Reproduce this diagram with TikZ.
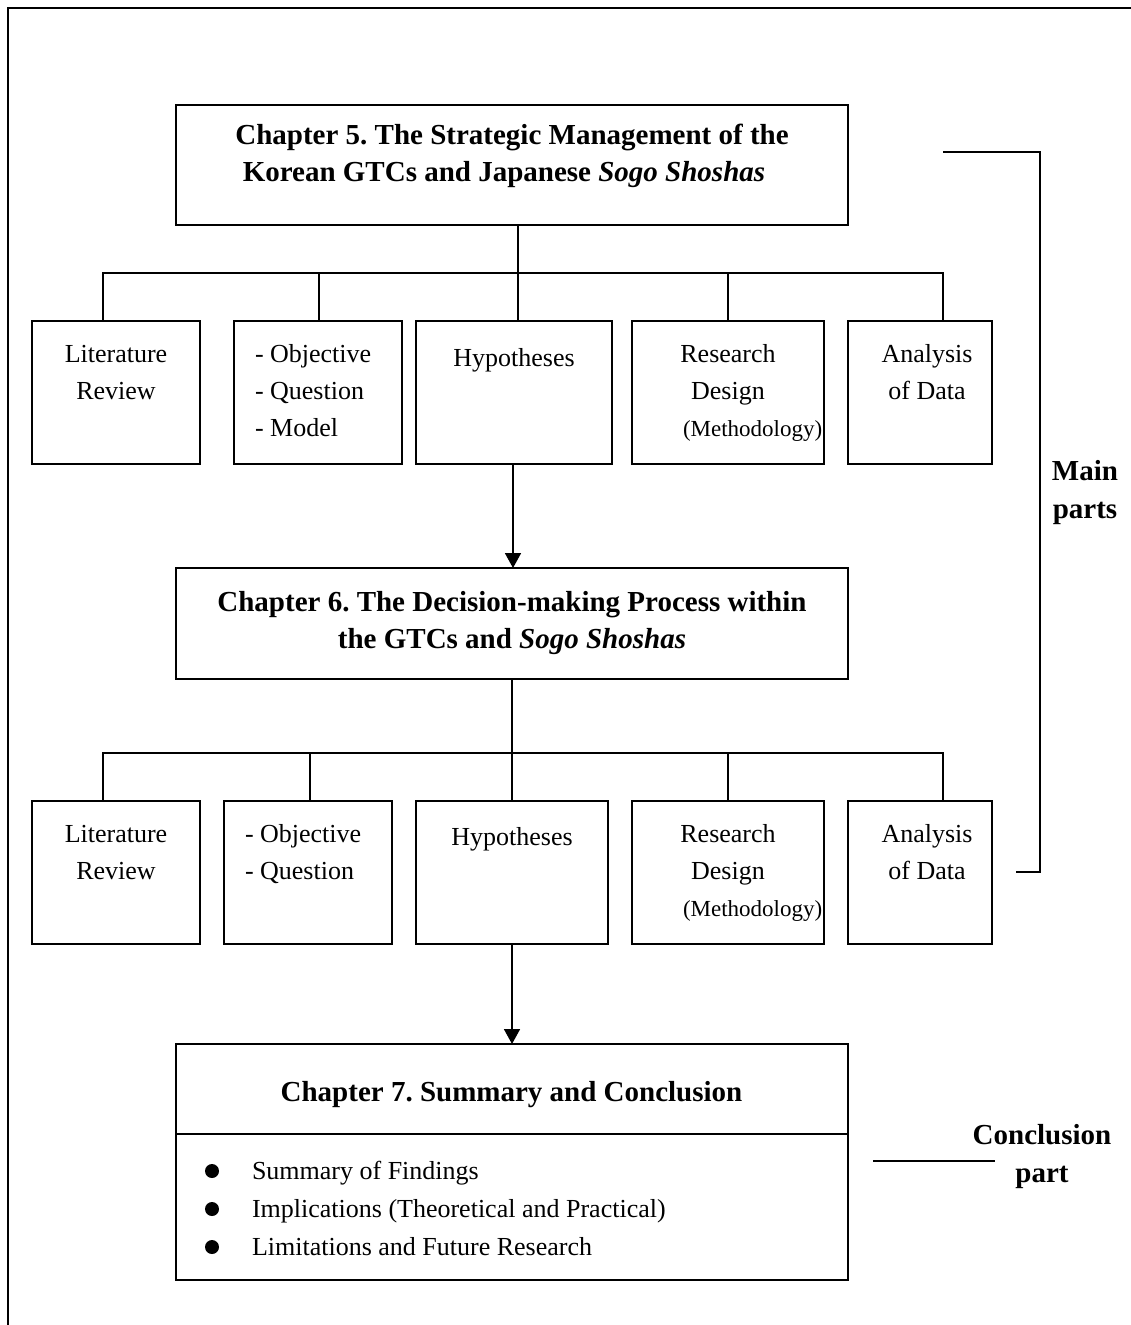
\documentclass[tikz,border=0pt]{standalone}
\usepackage{fontspec}
\setmainfont{Liberation Serif}
\frenchspacing
\usetikzlibrary{arrows.meta}
\begin{document}
\begin{tikzpicture}[x=1pt,y=-1pt,
  every node/.style={inner sep=0pt, outer sep=0pt},
  frame/.style={line width=2pt},
  box/.style 2 args={draw, line width=1.8pt, minimum width=#1, minimum height=#2},
  link/.style={line width=1.8pt},
  arrow/.style={line width=1.8pt, -{Triangle[width=16pt,length=15pt]}},
  body/.style={font=\fontsize{26}{37}\selectfont, align=center, anchor=base},
  listtxt/.style={font=\fontsize{26}{37}\selectfont, align=left, anchor=base west},
  small/.style={font=\fontsize{23}{37}\selectfont, anchor=base west},
  head/.style={font=\fontsize{29}{37}\selectfont\bfseries, anchor=base},
  side/.style={font=\fontsize{29}{38}\selectfont\bfseries, align=center, anchor=base}]
\useasboundingbox (0,0) rectangle (1131,1325);

% outer frame (top and left edges)
\draw[frame] (8,1325) -- (8,8) -- (1131,8);

% multi-line labels are placed by the baseline of their last line

% ---------- Chapter 5 ----------
\node[box={672pt}{120pt}] (c5) at (512,165) {};
\node[head] (c5a) at (512,144.5) {Chapter 5. The Strategic Management of the};
\node[head] (c5b) at (504,181.5) {Korean GTCs and Japanese \textit{Sogo Shoshas}};

\node[box={168pt}{143pt}] (a1) at (116,392.5) {};
\node[box={168pt}{143pt}] (a2) at (318,392.5) {};
\node[box={196pt}{143pt}] (a3) at (514,392.5) {};
\node[box={192pt}{143pt}] (a4) at (728,392.5) {};
\node[box={144pt}{143pt}] (a5) at (920,392.5) {};

\node[body] (a1t) at (116,399) {Literature\\Review};
\node[listtxt] (a2t) at (255,436) {- Objective\\- Question\\- Model};
\node[body] (a3t) at (514,366) {Hypotheses};
\node[body] (a4t) at (728,399) {Research\\Design};
\node[small] (a4m) at (683,436) {(Methodology)};
\node[body] (a5t) at (927,399) {Analysis\\of Data};

% tree links below Chapter 5
\coordinate (j5) at (518,273);
\coordinate (p1) at (103,273);
\coordinate (p2) at (319,273);
\coordinate (p4) at (728,273);
\coordinate (p5) at (943,273);
\draw[link] (c5.south -| j5) -- (j5);
\draw[link] (a1.north -| p1) -- (p1) -- (p5) -- (a5.north -| p5);
\draw[link] (p2) -- (a2.north -| p2);
\draw[link] (j5) -- (a3.north -| j5);
\draw[link] (p4) -- (a4.north -| p4);

% ---------- Chapter 6 ----------
\node[box={672pt}{111pt}] (c6) at (512,623.5) {};
\node[head] (c6a) at (512,611) {Chapter 6. The Decision-making Process within};
\node[head] (c6b) at (512,648) {the GTCs and \textit{Sogo Shoshas}};

\draw[arrow] (a3.south -| 513,0) -- (c6.north -| 513,0);

\node[box={168pt}{143pt}] (b1) at (116,872.5) {};
\node[box={168pt}{143pt}] (b2) at (308,872.5) {};
\node[box={192pt}{143pt}] (b3) at (512,872.5) {};
\node[box={192pt}{143pt}] (b4) at (728,872.5) {};
\node[box={144pt}{143pt}] (b5) at (920,872.5) {};

\node[body] (b1t) at (116,879) {Literature\\Review};
\node[listtxt] (b2t) at (245,879) {- Objective\\- Question};
\node[body] (b3t) at (512,845) {Hypotheses};
\node[body] (b4t) at (728,879) {Research\\Design};
\node[small] (b4m) at (683,916) {(Methodology)};
\node[body] (b5t) at (927,879) {Analysis\\of Data};

% tree links below Chapter 6
\coordinate (j6) at (512,753);
\coordinate (q1) at (103,753);
\coordinate (q2) at (310,753);
\coordinate (q4) at (728,753);
\coordinate (q5) at (943,753);
\draw[link] (c6.south -| j6) -- (j6);
\draw[link] (b1.north -| q1) -- (q1) -- (q5) -- (b5.north -| q5);
\draw[link] (q2) -- (b2.north -| q2);
\draw[link] (j6) -- (b3.north -| j6);
\draw[link] (q4) -- (b4.north -| q4);

% ---------- Chapter 7 ----------
\node[box={672pt}{236pt}] (c7) at (512,1162) {};
\node[head] (c7a) at (511.5,1101) {Chapter 7. Summary and Conclusion};
\draw[link] (c7.north west) ++(0,90) -- ++(672,0);

\draw[arrow] (b3.south) -- (c7.north -| b3.south);

\fill (212,1171) circle (7pt);
\fill (212,1209) circle (7pt);
\fill (212,1247) circle (7pt);
\node[listtxt] (s1) at (252,1179) {Summary of Findings};
\node[listtxt] (s2) at (252,1217) {Implications (Theoretical and Practical)};
\node[listtxt] (s3) at (252,1255) {Limitations and Future Research};

% ---------- side brackets ----------
\coordinate (m1) at (943,152);
\coordinate (m2) at (1040,152);
\coordinate (m3) at (1040,872);
\coordinate (m4) at (1016,872);
\draw[link] (m1) -- (m2) -- (m3) -- (m4);
\node[side] (main) at (1085,518) {Main\\parts};

\coordinate (k1) at (873,1161);
\coordinate (k2) at (995,1161);
\draw[link] (k1) -- (k2);
\node[side] (concl) at (1042,1182) {Conclusion\\part};
\end{tikzpicture}
\end{document}
